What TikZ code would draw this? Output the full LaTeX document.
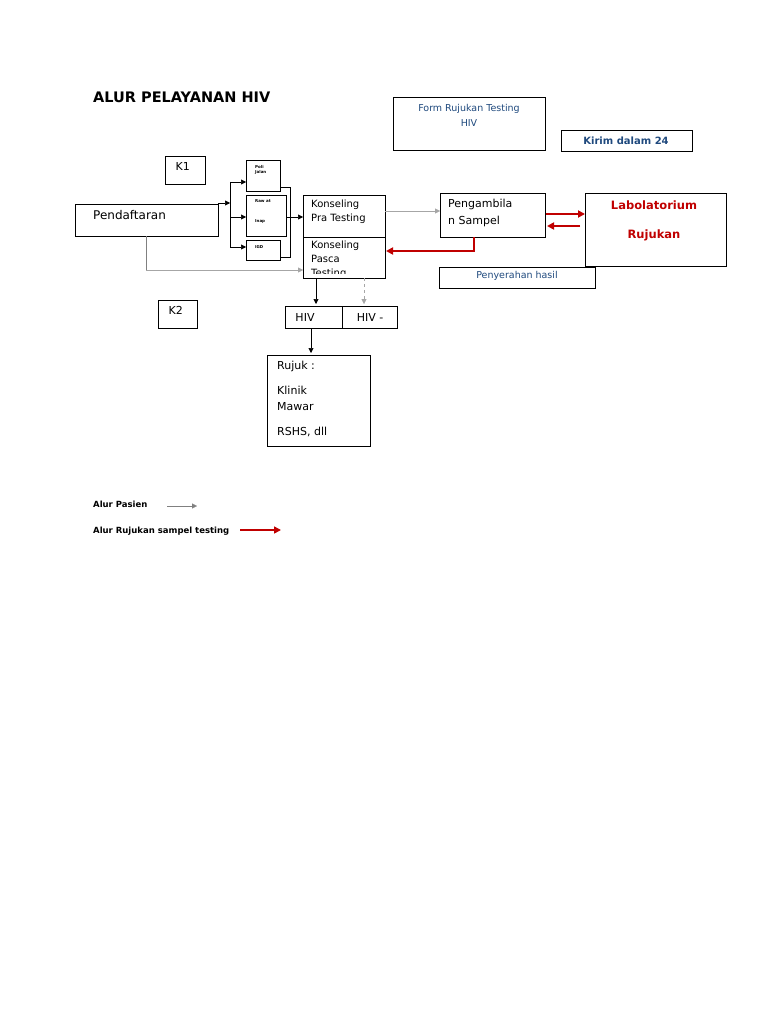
\documentclass[tikz,border=0pt]{standalone}
\usepackage{fontspec}
\setmainfont{DejaVu Sans}
\usetikzlibrary{arrows.meta}
\definecolor{dblue}{RGB}{31,73,125}
\definecolor{dred}{RGB}{192,0,0}
\begin{document}
\begin{tikzpicture}[x=1pt,y=-1pt,
  pa/.style={-{Triangle[length=5pt,width=5pt]},line width=0.6pt},
  ga/.style={-{Triangle[length=5pt,width=5pt]},line width=0.4pt,draw=gray!70},
  ra/.style={-{Triangle[length=7pt,width=7pt]},line width=2.2pt,draw=dred,color=dred},
  tiny/.style={font=\fontsize{4}{5}\selectfont\bfseries,anchor=north west,inner sep=0pt}]
\useasboundingbox (0,0) rectangle (768,1024);
\node[anchor=west,font=\fontsize{14.5}{16}\selectfont\bfseries,inner sep=0pt] (title) at (93,97) {ALUR PELAYANAN HIV};
% form
\draw[line width=0.8pt] (393,97) rectangle (545,150);
\node[font=\fontsize{9.5}{15}\selectfont,text=dblue,align=center] (form) at (469,115) {Form Rujukan Testing\\HIV};
\draw[line width=0.8pt] (561,130) rectangle (692,151);
\node[font=\fontsize{10}{11}\selectfont\bfseries,text=dblue] (kirim) at (626,140.5) {Kirim dalam 24};
% K1 K2
\draw[line width=0.8pt] (165,156) rectangle (205,184);
\node[anchor=north west,font=\fontsize{11}{12}\selectfont] (k1) at (172,159) {K1};
\draw[line width=0.8pt] (158,300) rectangle (197,328);
\node[anchor=north west,font=\fontsize{11}{12}\selectfont] (k2) at (165,303) {K2};
% pendaftaran
\draw[line width=0.8pt] (75,204) rectangle (218,236);
\node[anchor=west,font=\fontsize{12}{13}\selectfont,inner sep=0pt] (pend) at (93,215) {Pendaftaran};
% small boxes
\draw[line width=0.8pt] (246,160) rectangle (280,191);
\node[tiny,align=left] (poli) at (255,165) {Poli\\Jalan};
\draw[line width=0.8pt] (246,195) rectangle (286,236);
\node[tiny] (rawat) at (255,199) {Raw at};
\node[tiny] (inap) at (255,219) {Inap};
\draw[line width=0.8pt] (246,240) rectangle (280,260);
\node[tiny] (igd) at (255,245) {IGD};
% branching
\draw[line width=0.6pt] (230,182) -- (230,247);
\draw[pa] (218,203) -- (230,203);
\draw[pa] (230,182) -- (246,182);
\draw[pa] (230,217) -- (246,217);
\draw[pa] (230,247) -- (246,247);
\draw[line width=0.6pt] (280,187) -- (290,187) -- (290,257) -- (280,257);
\draw[line width=0.6pt] (286,217) -- (290,217);
\draw[pa] (290,217) -- (303,217);
% konseling
\draw[line width=0.8pt] (303,195) rectangle (385,237);
\node[anchor=north west,font=\fontsize{10}{14}\selectfont,align=left,inner sep=0pt] (pra) at (311,200) {Konseling\\Pra Testing};
\draw[line width=0.8pt] (303,237) rectangle (385,278);
\begin{scope}
\clip (303,237) rectangle (385,273);
\node[anchor=north west,font=\fontsize{10}{14}\selectfont,align=left,inner sep=0pt] (pasca) at (311,241) {Konseling\\Pasca\\Testing};
\end{scope}
\draw[line width=0.6pt,draw=gray] (146,236) -- (146,270);
\draw[ga] (146,270) -- (303,270);
\draw[ga] (385,211) -- (440,211);
% pengambilan
\draw[line width=0.8pt] (440,193) rectangle (545,237);
\node[anchor=north west,font=\fontsize{11}{17}\selectfont,align=left,inner sep=0pt] (peng) at (448,199) {Pengambila\\n Sampel};
% lab
\draw[line width=0.8pt] (585,193) rectangle (726,266);
\node[font=\fontsize{11.5}{12}\selectfont\bfseries,text=dred] (lab1) at (654,205) {Labolatorium};
\node[font=\fontsize{11.5}{12}\selectfont\bfseries,text=dred] (lab2) at (654,235) {Rujukan};
\draw[ra] (546,214) -- (585,214);
\draw[ra] (580,226) -- (547,226);
\draw[ra] (474,237) -- (474,251) -- (386,251);
% penyerahan
\draw[line width=0.8pt] (439,267) rectangle (595,288);
\node[font=\fontsize{9.5}{11}\selectfont,text=dblue] (pen) at (517,276) {Penyerahan hasil};
% HIV
\draw[pa] (316,278) -- (316,304);
\draw[ga,dashed] (364,278) -- (364,304);
\draw[line width=0.8pt] (285,306) rectangle (342,328);
\node[font=\fontsize{11}{12}\selectfont] (hivp) at (305,317) {HIV};
\draw[line width=0.8pt] (342,306) rectangle (397,328);
\node[font=\fontsize{11}{12}\selectfont] (hivn) at (370,317) {HIV -};
\draw[pa] (311,328) -- (311,353);
% rujuk
\draw[line width=0.8pt] (267,355) rectangle (370,446);
\node[anchor=north west,font=\fontsize{11}{16}\selectfont,align=left,inner sep=0pt] (ruj) at (277,361) {Rujuk :\\[9pt]Klinik\\Mawar\\[9pt]RSHS, dll};
% legend
\node[anchor=west,font=\fontsize{8.5}{10}\selectfont\bfseries,inner sep=0pt] (lp) at (93,504) {Alur Pasien};
\draw[-{Triangle[length=5pt,width=5pt]},line width=0.3pt,draw=gray] (167,506) -- (197,506);
\node[anchor=west,font=\fontsize{8.5}{10}\selectfont\bfseries,inner sep=0pt] (lr) at (93,531) {Alur Rujukan sampel testing};
\draw[ra,line width=1.6pt] (240,530) -- (281,530);
\end{tikzpicture}
\end{document}
